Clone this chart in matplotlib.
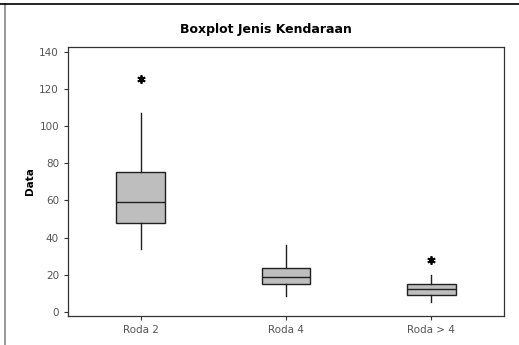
import matplotlib
matplotlib.use("Agg")
import matplotlib.pyplot as plt
from matplotlib.lines import Line2D

categories = ["Roda 2", "Roda 4", "Roda > 4"]
q1 = [47.6, 14.9, 9.0]
medians = [59.2, 18.8, 12.1]
q3 = [75.1, 23.7, 15.1]
whisker_low = [33.8, 8.3, 5.1]
whisker_high = [107.2, 35.9, 19.8]
outliers = [[125.3], [], [27.8]]

stats = []
for i, name in enumerate(categories):
    stats.append({
        "label": name,
        "q1": q1[i],
        "med": medians[i],
        "q3": q3[i],
        "whislo": whisker_low[i],
        "whishi": whisker_high[i],
        "fliers": outliers[i],
    })

fig = plt.figure(figsize=(5.19, 3.45), dpi=100)
ax = fig.add_axes([68 / 519, 1 - 316 / 345, 436 / 519, 269 / 345])

ax.bxp(
    stats,
    positions=[1, 2, 3],
    widths=0.334,
    patch_artist=True,
    showcaps=False,
    boxprops=dict(facecolor="#bebebe", edgecolor="#202020", linewidth=1.0),
    medianprops=dict(color="#202020", linewidth=1.0),
    whiskerprops=dict(color="#202020", linewidth=1.0),
    flierprops=dict(marker=(6, 2, 0), markersize=6, markeredgewidth=1.3,
                    markerfacecolor="black", markeredgecolor="black",
                    linestyle="none"),
)

ax.set_xlim(0.5, 3.5)
ax.set_ylim(-2.3, 142.7)
ax.set_yticks([0, 20, 40, 60, 80, 100, 120, 140])
ax.tick_params(axis="both", direction="out", length=3, width=0.8,
               labelsize=7.5, labelcolor="#555555", color="#333333")
for spine in ax.spines.values():
    spine.set_color("#333333")
    spine.set_linewidth(0.9)

ax.set_ylabel("Data", fontsize=7.5, fontweight="bold", labelpad=3)
fig.text(266 / 519, 1 - 29 / 345, "Boxplot Jenis Kendaraan", ha="center",
         va="center", fontsize=9, fontweight="bold")

# window border
fig.add_artist(Line2D([5 / 519, 5 / 519], [0, 1 - 4 / 345], color="#888888", lw=1.2))
fig.add_artist(Line2D([0, 1], [1 - 4 / 345, 1 - 4 / 345], color="black", lw=1.2))

fig.savefig("out.png", dpi=100)
